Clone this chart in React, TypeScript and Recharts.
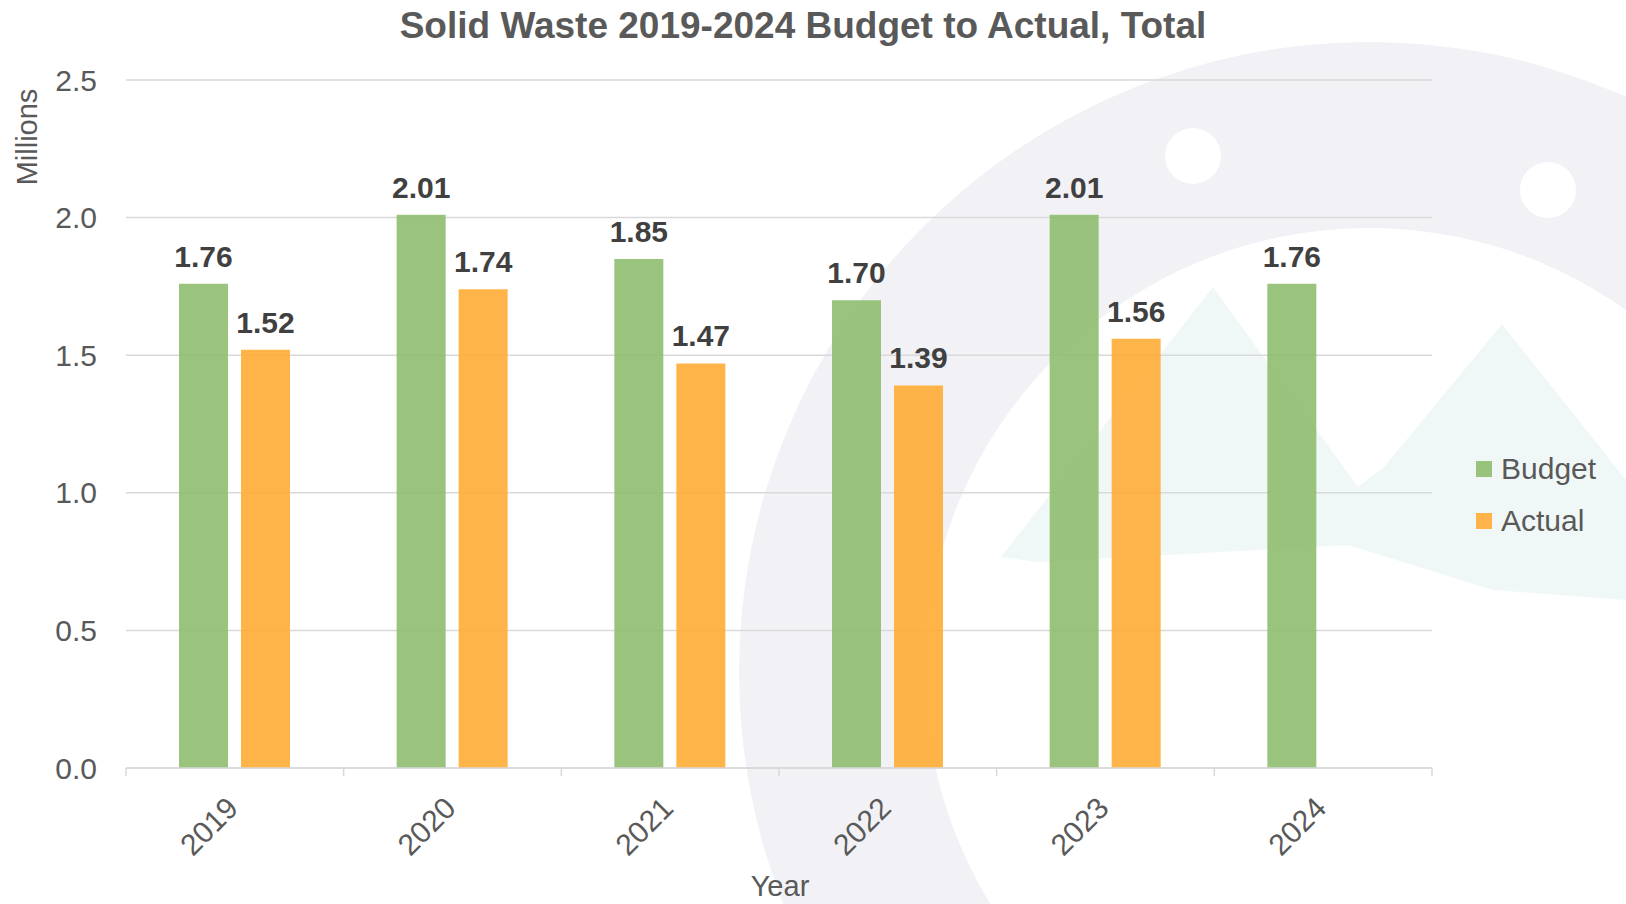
import React from 'react';
import { BarChart, Bar, XAxis, YAxis, CartesianGrid, Legend, LabelList } from 'recharts';

const years = ['2019', '2020', '2021', '2022', '2023', '2024'];
const budget = [1.76, 2.01, 1.85, 1.7, 2.01, 1.76];
const actual: (number | null)[] = [1.52, 1.74, 1.47, 1.39, 1.56, null];
const yTicks = [0, 0.5, 1, 1.5, 2, 2.5];

const data = years.map((year, i) => ({ year, budget: budget[i], actual: actual[i] }));

const FONT = '"Liberation Sans", Arial, Helvetica, sans-serif';
const GREEN = '#8fbd6f';
const ORANGE = '#ffac36';
const GRID = '#d9d9d9';
const TEXT = '#595959';

// faint logo watermark behind the chart
const Watermark = () => (
  <svg width={1626} height={904} style={{ position: 'absolute', left: 0, top: 0 }}>
    <defs>
      <clipPath id="inner">
        <circle cx={1369} cy={672} r={444} />
      </clipPath>
    </defs>
    <circle cx={1369} cy={672} r={630} fill="#f2f2f6" />
    <circle cx={1369} cy={672} r={444} fill="#ffffff" />
    <circle cx={1193} cy={156} r={28} fill="#ffffff" />
    <circle cx={1548} cy={190} r={28} fill="#ffffff" />
    <polygon
      clipPath="url(#inner)"
      fill="#f0f8f7"
      points="1001,557 1213,287 1358,487 1384,467 1502,324 1626,480 1626,600 1493,590 1348,545 1037,562"
    />
  </svg>
);

const YearTick = (props: any) => {
  const { x, y, payload } = props;
  const half = payload.offset || 108.8;
  const isLast = payload.value === years[years.length - 1];
  const tx = x + 5;
  const ty = y + 42;
  return (
    <g>
      <line x1={x - half} y1={y} x2={x - half} y2={y + 8} stroke={GRID} strokeWidth={1.5} />
      {isLast && <line x1={x + half} y1={y} x2={x + half} y2={y + 8} stroke={GRID} strokeWidth={1.5} />}
      <text
        x={tx}
        y={ty}
        transform={`rotate(-45, ${tx}, ${ty})`}
        textAnchor="end"
        fill={TEXT}
        fontSize={30}
        fontFamily={FONT}
      >
        {payload.value}
      </text>
    </g>
  );
};

const LegendBox = () => (
  <div style={{ fontFamily: FONT, fontSize: 30, color: TEXT }}>
    {[
      { name: 'Budget', color: GREEN },
      { name: 'Actual', color: ORANGE },
    ].map((item) => (
      <div key={item.name} style={{ display: 'flex', alignItems: 'center', height: 52, lineHeight: '52px' }}>
        <span style={{ width: 16, height: 16, background: item.color, opacity: 0.9, marginRight: 9 }} />
        <span>{item.name}</span>
      </div>
    ))}
  </div>
);

const fmt = (v: any) => (v === null || v === undefined ? '' : Number(v).toFixed(2));

export default function App() {
  return (
    <div style={{ position: 'absolute', left: 0, top: 0, width: 1626, height: 904, overflow: 'hidden', background: '#fff' }}>
      <Watermark />
      <div style={{ position: 'absolute', left: 0, top: 0 }}>
        <BarChart
          width={1626}
          height={904}
          data={data}
          margin={{ top: 80, right: 194, left: 46, bottom: 36 }}
          barSize={49}
          barGap={13}
        >
          <CartesianGrid vertical={false} stroke={GRID} strokeWidth={1.5} />
          <XAxis
            dataKey="year"
            height={100}
            tickSize={0}
            tickMargin={0}
            tickLine={false}
            axisLine={{ stroke: GRID, strokeWidth: 1.5 }}
            tick={<YearTick />}
            interval={0}
          />
          <YAxis
            width={80}
            domain={[0, 2.5]}
            ticks={yTicks}
            tickFormatter={(v: number) => v.toFixed(1)}
            axisLine={false}
            tickLine={false}
            tickSize={0}
            tickMargin={29}
            tick={{ fill: TEXT, fontSize: 30, fontFamily: FONT }}
          />
          <Legend
            layout="horizontal"
            verticalAlign="middle"
            align="center"
            width={150}
            wrapperStyle={{ left: 1476, top: 443, width: 150 }}
            content={() => <LegendBox />}
          />
          <Bar dataKey="budget" name="Budget" fill={GREEN} fillOpacity={0.9} isAnimationActive={false}>
            <LabelList
              dataKey="budget"
              position="top"
              offset={17}
              formatter={fmt}
              fill="#404040"
              fontSize={30}
              fontWeight="bold"
              fontFamily={FONT}
            />
          </Bar>
          <Bar dataKey="actual" name="Actual" fill={ORANGE} fillOpacity={0.9} isAnimationActive={false}>
            <LabelList
              dataKey="actual"
              position="top"
              offset={17}
              formatter={fmt}
              fill="#404040"
              fontSize={30}
              fontWeight="bold"
              fontFamily={FONT}
            />
          </Bar>
        </BarChart>
      </div>
      <svg width={1626} height={904} style={{ position: 'absolute', left: 0, top: 0, pointerEvents: 'none' }}>
        <text x={803} y={38} textAnchor="middle" fill={TEXT} fontSize={37} fontWeight="bold" fontFamily={FONT}>
          Solid Waste 2019-2024 Budget to Actual, Total
        </text>
        <text x={37} y={137} transform="rotate(-90, 37, 137)" textAnchor="middle" fill={TEXT} fontSize={29} fontFamily={FONT}>
          Millions
        </text>
        <text x={780} y={896} textAnchor="middle" fill={TEXT} fontSize={29} fontFamily={FONT}>
          Year
        </text>
      </svg>
    </div>
  );
}
